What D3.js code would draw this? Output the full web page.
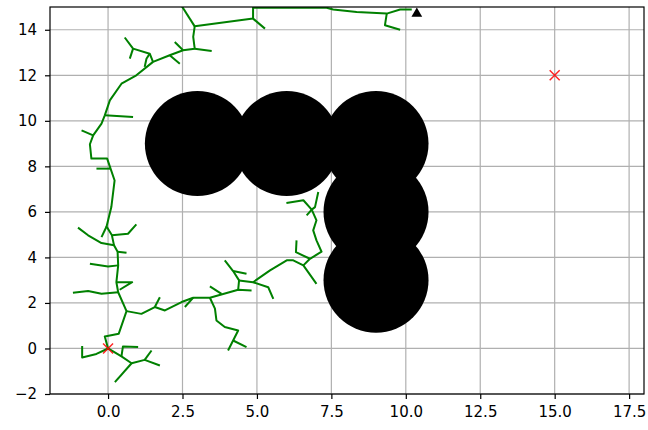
<!DOCTYPE html>
<meta charset="utf-8">
<script src="https://d3js.org/d3.v7.min.js"></script>
<style>
  body { margin: 0; background: #fff; }
  .tick text { font-family: "DejaVu Sans", sans-serif; font-size: 15px; fill: #000; }
</style>
<div id="my_dataviz"></div>
<script>

// obstacles (circle centres)
var obstacles = [[3, 9], [6, 9], [9, 9], [9, 6], [9, 3]];

// start / random target and goal
var crosses = [[0, 0], [15, 12]];
var goal = [10.37, 14.71];

// tick values
var xTicks = [0, 2.5, 5, 7.5, 10, 12.5, 15, 17.5];
var yTicks = [-2, 0, 2, 4, 6, 8, 10, 12, 14];

// tree branches (polylines)
var branches = [
  [[0,0],[-0.39,-0.24],[-0.87,-0.40],[-0.87,0.11]],
  [[0,0],[0.45,-0.35],[0.79,-0.65],[1.23,-0.50],[1.74,-0.75]],
  [[1.23,-0.50],[1.46,-0.09]],
  [[0.79,-0.65],[0.23,-1.48]],
  [[0.45,-0.35],[0.50,0.09],[1.01,0.07]],
  [[0,0],[-0.11,0.53],[0.36,0.65],[0.62,1.64],[0.34,2.47],[0.28,2.91],[0.34,3.65],[0.32,4.25],[0.20,4.53],
   [0.13,4.97],[-0.05,5.36],[0.11,6.21],[0.22,7.38],[-0.03,8.34],[-0.56,8.34],[-0.61,8.97],[-0.50,9.36],
   [-0.22,9.88],[-0.11,10.24],[0.06,10.9],[0.45,11.63],[0.95,12.0],[1.51,12.59],[2.07,12.88],[2.52,13.10],
   [2.91,13.17],[2.86,13.69],[2.91,14.15],[4.87,14.49],[4.87,14.97],[7.34,14.97],[7.56,14.89],[8.35,14.78],
   [9.36,14.71],[9.81,14.89],[10.2,14.89]],
  [[0.34,2.47],[-0.22,2.40],[-0.67,2.52],[-1.18,2.45]],
  [[0.28,2.91],[0.81,2.91],[0.39,2.58]],
  [[0.34,3.65],[0,3.60],[-0.61,3.72]],
  [[0.32,4.25],[0.62,4.20]],
  [[0.20,4.53],[-0.22,4.63],[-0.67,4.97],[-1.01,5.31]],
  [[0.13,4.97],[0.67,5.04],[0.95,5.45]],
  [[-0.05,5.36],[-0.22,4.89]],
  [[0.09,7.90],[-0.39,7.90]],
  [[-0.50,9.36],[-0.89,9.58]],
  [[-0.11,10.24],[0.84,10.17]],
  [[1.51,12.59],[1.40,12.95],[0.84,13.17],[0.56,13.66]],
  [[0.84,13.17],[0.73,12.73]],
  [[1.40,12.95],[1.29,12.73],[1.23,12.37]],
  [[2.07,12.88],[2.41,12.51]],
  [[2.52,13.10],[2.24,13.46]],
  [[2.91,13.17],[3.48,13.07]],
  [[2.91,14.15],[2.35,15.3]],
  [[4.87,14.49],[5.27,14.05]],
  [[9.36,14.71],[9.30,14.2],[9.81,14.0]],
  [[0.62,1.64],[1.12,1.52],[1.57,1.82],[1.91,1.67],[2.47,2.04],[2.86,2.23],[3.42,2.23],[4.37,2.58],[4.82,2.55]],
  [[1.57,1.82],[1.74,2.25]],
  [[2.86,2.23],[2.58,1.82]],
  [[3.81,2.40],[3.42,2.73]],
  [[3.42,2.23],[3.59,1.75],[3.64,1.23],[3.92,0.94],[4.37,0.79],[4.20,0.35],[4.03,-0.09]],
  [[4.20,0.35],[4.65,0.06]],
  [[4.37,2.58],[4.40,2.99],[4.20,3.40],[3.92,3.87]],
  [[4.20,3.40],[4.65,3.28]],
  [[4.40,2.99],[4.87,2.91],[5.38,2.69],[5.55,2.18]],
  [[4.87,2.91],[5.44,3.43],[6.0,3.87],[6.22,3.87],[6.56,3.65],[7.0,2.84]],
  [[6.56,3.65],[6.78,3.94],[7.17,4.25],[7.0,4.75],[6.89,5.19],[7.0,5.63],[6.84,6.10],[6.95,6.21],[7.06,6.87]],
  [[6.84,6.10],[6.56,6.51],[5.99,6.39]],
  [[6.84,6.10],[6.67,5.85]],
  [[6.78,3.94],[6.31,4.23],[6.33,4.75]]
];

var margin = {top: 7, right: 4, bottom: 36, left: 50},
    width = 648 - margin.left - margin.right,
    height = 430 - margin.top - margin.bottom;

var svg = d3.select("#my_dataviz")
  .append("svg")
    .attr("width", 648)
    .attr("height", 430)
  .append("g")
    .attr("transform", "translate(" + margin.left + "," + margin.top + ")");

var x = d3.scaleLinear().domain([-1.95, 18.0]).range([0, width]);
var y = d3.scaleLinear().domain([-2, 15]).range([height, 0]);

// grid
svg.append("g")
  .selectAll("line.gx").data(xTicks).enter().append("line")
    .attr("x1", function(d) { return x(d); }).attr("x2", function(d) { return x(d); })
    .attr("y1", 0).attr("y2", height)
    .attr("stroke", "#b0b0b0").attr("stroke-width", 1.2);
svg.append("g")
  .selectAll("line.gy").data(yTicks).enter().append("line")
    .attr("y1", function(d) { return y(d); }).attr("y2", function(d) { return y(d); })
    .attr("x1", 0).attr("x2", width)
    .attr("stroke", "#b0b0b0").attr("stroke-width", 1.2);

svg.append("clipPath").attr("id", "clip")
  .append("rect").attr("width", width).attr("height", height);

var plot = svg.append("g").attr("clip-path", "url(#clip)");

// obstacles
var r = 52.5;
plot.selectAll("circle").data(obstacles).enter().append("circle")
  .attr("cx", function(d) { return x(d[0]); })
  .attr("cy", function(d) { return y(d[1]); })
  .attr("r", r)
  .attr("fill", "#000");

// tree
var line = d3.line().x(function(d) { return x(d[0]); }).y(function(d) { return y(d[1]); });
plot.selectAll("path.branch").data(branches).enter().append("path")
  .attr("class", "branch")
  .attr("d", line)
  .attr("fill", "none")
  .attr("stroke", "#008000")
  .attr("stroke-width", 2)
  .attr("stroke-linejoin", "round");

// crosses
var s = 5;
plot.selectAll("path.cross").data(crosses).enter().append("path")
  .attr("d", function(d) {
    var cx = x(d[0]), cy = y(d[1]);
    return "M" + (cx - s) + "," + (cy - s) + "L" + (cx + s) + "," + (cy + s) +
           "M" + (cx - s) + "," + (cy + s) + "L" + (cx + s) + "," + (cy - s);
  })
  .attr("stroke", "#ff0000").attr("stroke-opacity", 0.85).attr("stroke-width", 1.5);

// goal
plot.append("path")
  .attr("d", d3.symbol().type(d3.symbolTriangle).size(50))
  .attr("transform", "translate(" + x(goal[0]) + "," + y(goal[1]) + ")")
  .attr("fill", "#000");

// axes
svg.append("g")
  .attr("transform", "translate(0," + height + ")")
  .call(d3.axisBottom(x).tickValues(xTicks).tickSize(5).tickPadding(7).tickFormat(d3.format(".1f")))
  .call(function(g) { g.select(".domain").remove(); });
svg.append("g")
  .call(d3.axisLeft(y).tickValues(yTicks).tickSize(5).tickPadding(8).tickFormat(d3.format("d")))
  .call(function(g) { g.select(".domain").remove(); });
svg.selectAll(".tick line").attr("stroke", "#000").attr("stroke-width", 1.2);

// frame
svg.append("rect")
  .attr("width", width).attr("height", height)
  .attr("fill", "none").attr("stroke", "#000").attr("stroke-width", 1.2);

</script>
